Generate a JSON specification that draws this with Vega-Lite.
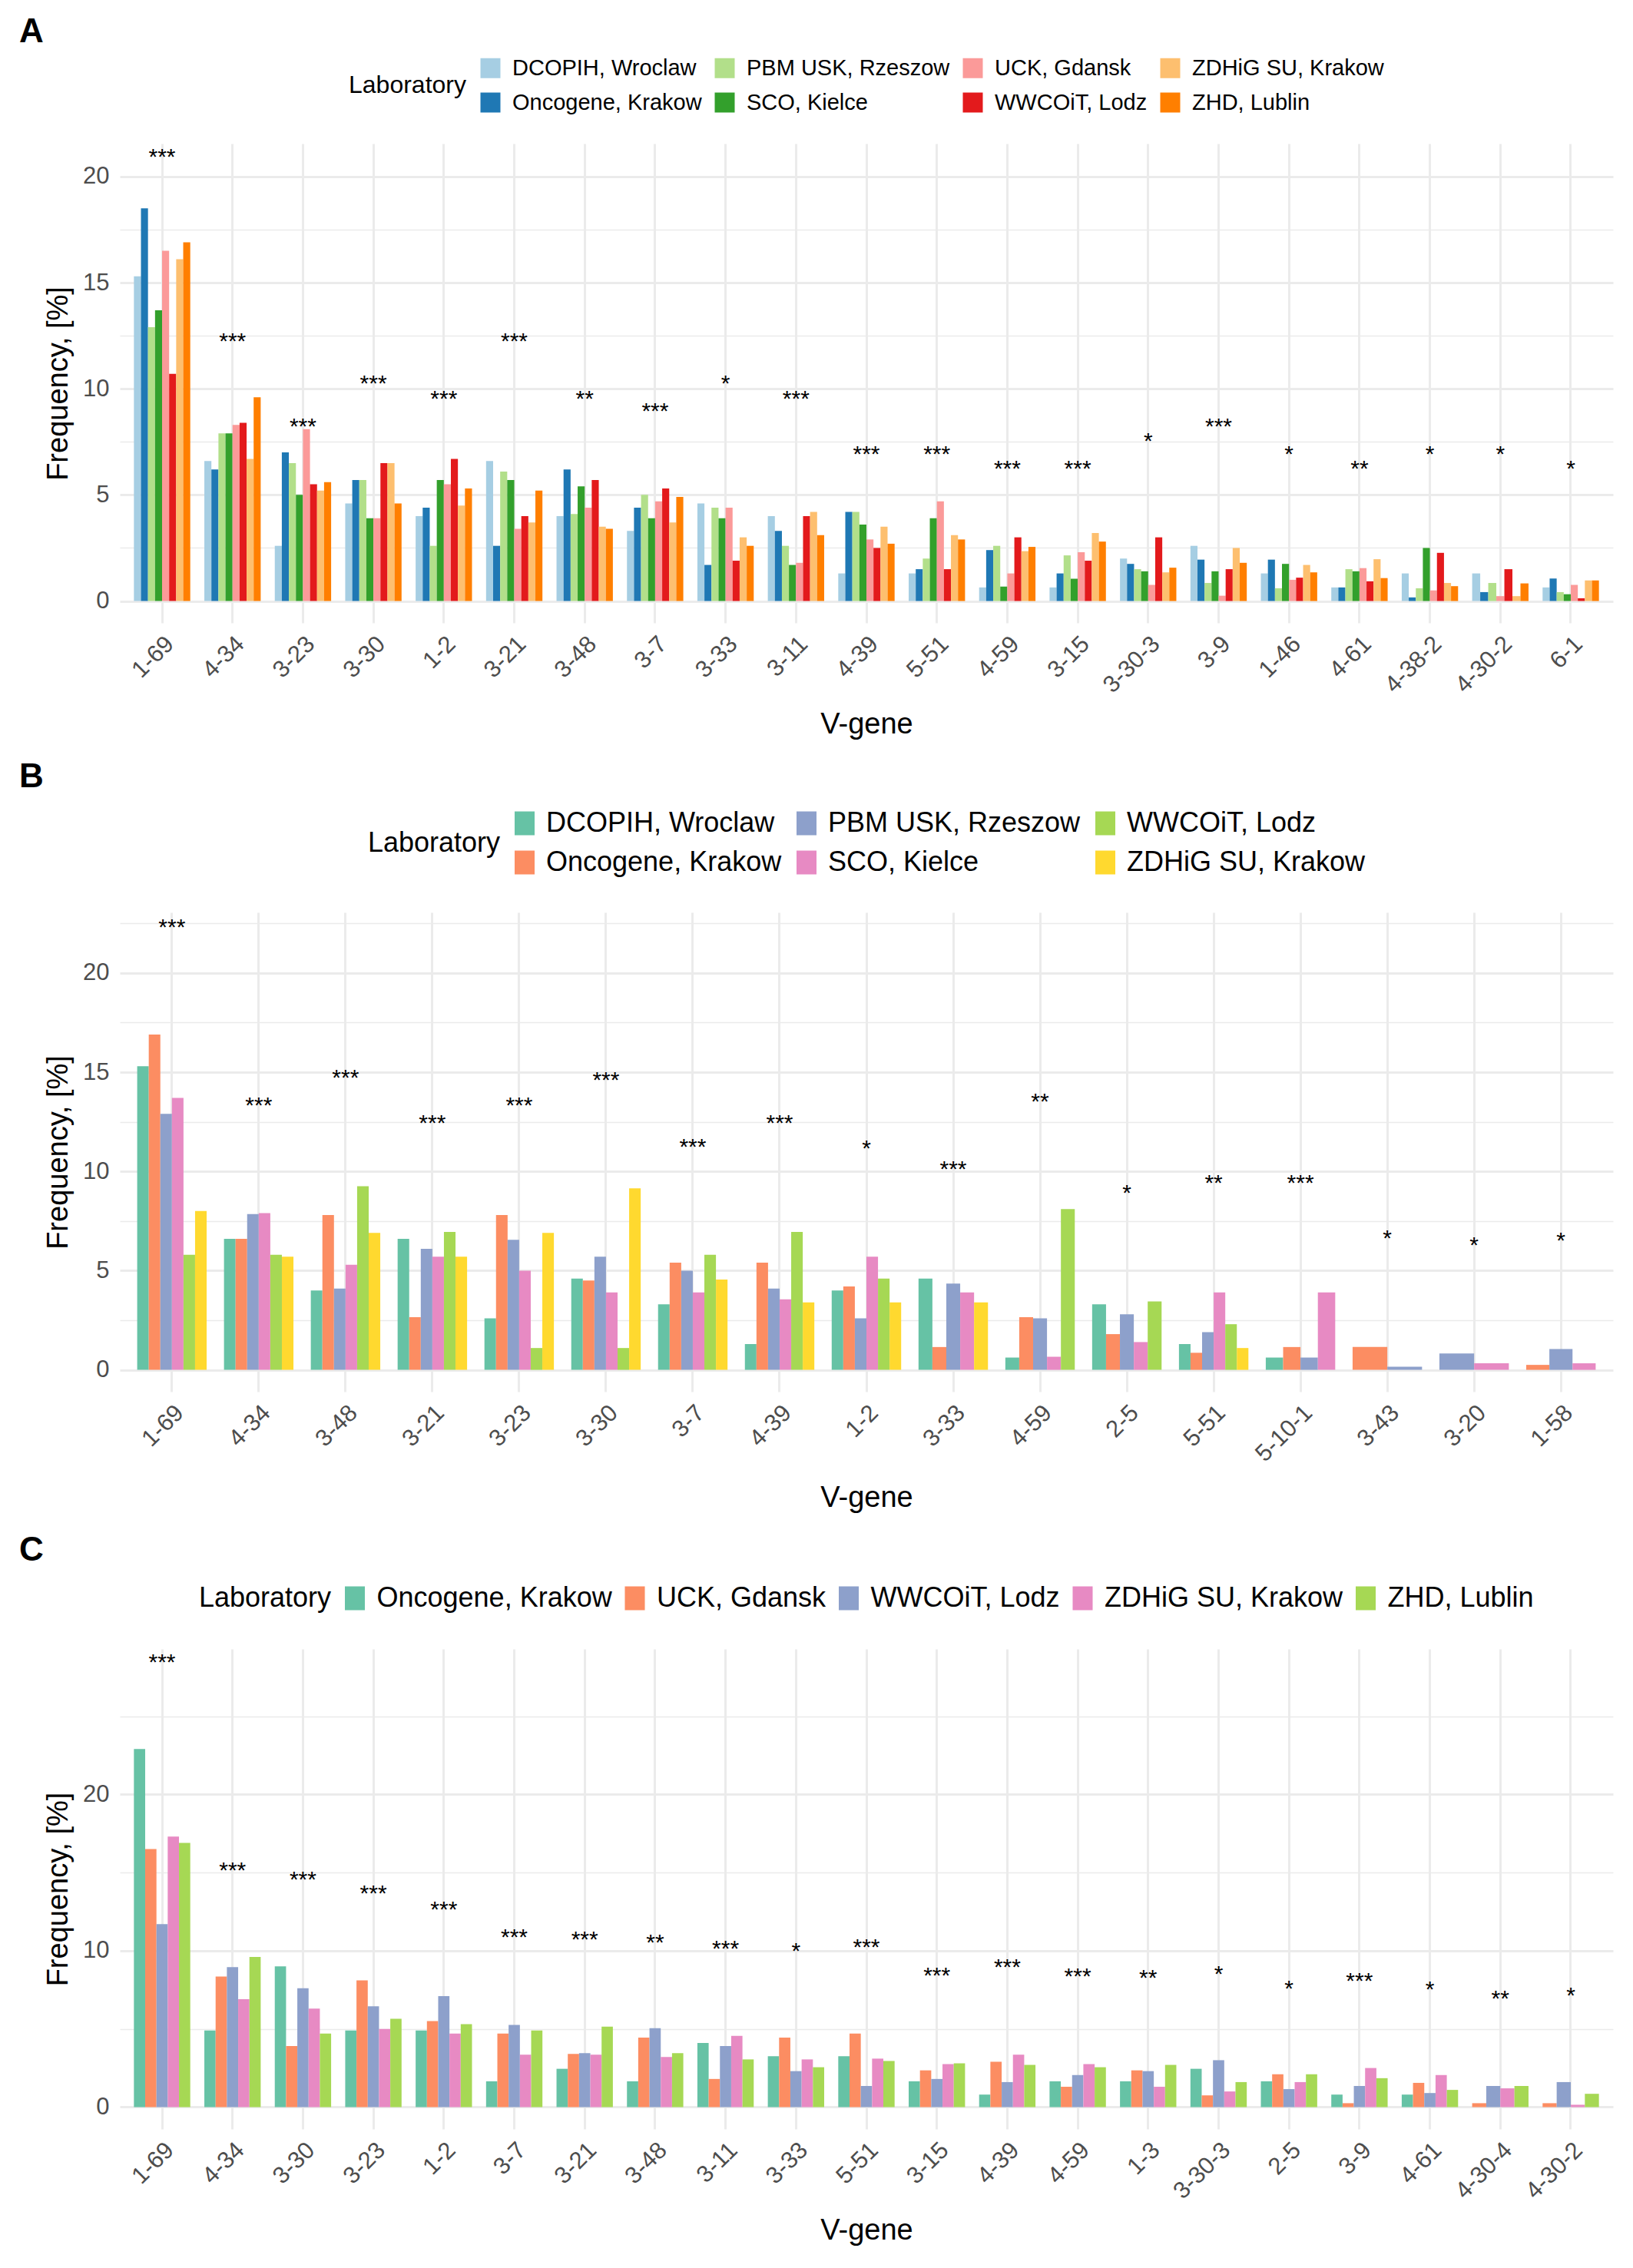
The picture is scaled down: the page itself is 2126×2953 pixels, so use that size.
{
  "$schema": "https://vega.github.io/schema/vega-lite/v6.json",
  "background": "white",
  "padding": {"left": 25, "top": 20, "right": 20, "bottom": 10},
  "spacing": 27,
  "config": {
    "font": "Liberation Sans",
    "view": {"stroke": null},
    "legend": {"layout": {"top": {"anchor": "middle"}}, "labelLimit": 1000},
    "axis": {
      "labelFont": "Liberation Sans",
      "titleFont": "Liberation Sans",
      "titleFontWeight": "normal",
      "titleColor": "black",
      "labelColor": "#4D4D4D",
      "gridColor": "#EBEBEB",
      "domain": false,
      "ticks": false
    }
  },
  "datasets": {
    "A": [
      {"gene": "1-69", "lab": "DCOPIH, Wroclaw", "freq": 15.3},
      {"gene": "1-69", "lab": "Oncogene, Krakow", "freq": 18.5},
      {"gene": "1-69", "lab": "PBM USK, Rzeszow", "freq": 12.9},
      {"gene": "1-69", "lab": "SCO, Kielce", "freq": 13.7},
      {"gene": "1-69", "lab": "UCK, Gdansk", "freq": 16.5},
      {"gene": "1-69", "lab": "WWCOiT, Lodz", "freq": 10.7},
      {"gene": "1-69", "lab": "ZDHiG SU, Krakow", "freq": 16.1},
      {"gene": "1-69", "lab": "ZHD, Lublin", "freq": 16.9},
      {"gene": "4-34", "lab": "DCOPIH, Wroclaw", "freq": 6.6},
      {"gene": "4-34", "lab": "Oncogene, Krakow", "freq": 6.2},
      {"gene": "4-34", "lab": "PBM USK, Rzeszow", "freq": 7.9},
      {"gene": "4-34", "lab": "SCO, Kielce", "freq": 7.9},
      {"gene": "4-34", "lab": "UCK, Gdansk", "freq": 8.3},
      {"gene": "4-34", "lab": "WWCOiT, Lodz", "freq": 8.4},
      {"gene": "4-34", "lab": "ZDHiG SU, Krakow", "freq": 6.7},
      {"gene": "4-34", "lab": "ZHD, Lublin", "freq": 9.6},
      {"gene": "3-23", "lab": "DCOPIH, Wroclaw", "freq": 2.6},
      {"gene": "3-23", "lab": "Oncogene, Krakow", "freq": 7.0},
      {"gene": "3-23", "lab": "PBM USK, Rzeszow", "freq": 6.5},
      {"gene": "3-23", "lab": "SCO, Kielce", "freq": 5.0},
      {"gene": "3-23", "lab": "UCK, Gdansk", "freq": 8.1},
      {"gene": "3-23", "lab": "WWCOiT, Lodz", "freq": 5.5},
      {"gene": "3-23", "lab": "ZDHiG SU, Krakow", "freq": 5.2},
      {"gene": "3-23", "lab": "ZHD, Lublin", "freq": 5.6},
      {"gene": "3-30", "lab": "DCOPIH, Wroclaw", "freq": 4.6},
      {"gene": "3-30", "lab": "Oncogene, Krakow", "freq": 5.7},
      {"gene": "3-30", "lab": "PBM USK, Rzeszow", "freq": 5.7},
      {"gene": "3-30", "lab": "SCO, Kielce", "freq": 3.9},
      {"gene": "3-30", "lab": "UCK, Gdansk", "freq": 3.9},
      {"gene": "3-30", "lab": "WWCOiT, Lodz", "freq": 6.5},
      {"gene": "3-30", "lab": "ZDHiG SU, Krakow", "freq": 6.5},
      {"gene": "3-30", "lab": "ZHD, Lublin", "freq": 4.6},
      {"gene": "1-2", "lab": "DCOPIH, Wroclaw", "freq": 4.0},
      {"gene": "1-2", "lab": "Oncogene, Krakow", "freq": 4.4},
      {"gene": "1-2", "lab": "PBM USK, Rzeszow", "freq": 2.6},
      {"gene": "1-2", "lab": "SCO, Kielce", "freq": 5.7},
      {"gene": "1-2", "lab": "UCK, Gdansk", "freq": 5.5},
      {"gene": "1-2", "lab": "WWCOiT, Lodz", "freq": 6.7},
      {"gene": "1-2", "lab": "ZDHiG SU, Krakow", "freq": 4.5},
      {"gene": "1-2", "lab": "ZHD, Lublin", "freq": 5.3},
      {"gene": "3-21", "lab": "DCOPIH, Wroclaw", "freq": 6.6},
      {"gene": "3-21", "lab": "Oncogene, Krakow", "freq": 2.6},
      {"gene": "3-21", "lab": "PBM USK, Rzeszow", "freq": 6.1},
      {"gene": "3-21", "lab": "SCO, Kielce", "freq": 5.7},
      {"gene": "3-21", "lab": "UCK, Gdansk", "freq": 3.4},
      {"gene": "3-21", "lab": "WWCOiT, Lodz", "freq": 4.0},
      {"gene": "3-21", "lab": "ZDHiG SU, Krakow", "freq": 3.7},
      {"gene": "3-21", "lab": "ZHD, Lublin", "freq": 5.2},
      {"gene": "3-48", "lab": "DCOPIH, Wroclaw", "freq": 4.0},
      {"gene": "3-48", "lab": "Oncogene, Krakow", "freq": 6.2},
      {"gene": "3-48", "lab": "PBM USK, Rzeszow", "freq": 4.1},
      {"gene": "3-48", "lab": "SCO, Kielce", "freq": 5.4},
      {"gene": "3-48", "lab": "UCK, Gdansk", "freq": 4.4},
      {"gene": "3-48", "lab": "WWCOiT, Lodz", "freq": 5.7},
      {"gene": "3-48", "lab": "ZDHiG SU, Krakow", "freq": 3.5},
      {"gene": "3-48", "lab": "ZHD, Lublin", "freq": 3.4},
      {"gene": "3-7", "lab": "DCOPIH, Wroclaw", "freq": 3.3},
      {"gene": "3-7", "lab": "Oncogene, Krakow", "freq": 4.4},
      {"gene": "3-7", "lab": "PBM USK, Rzeszow", "freq": 5.0},
      {"gene": "3-7", "lab": "SCO, Kielce", "freq": 3.9},
      {"gene": "3-7", "lab": "UCK, Gdansk", "freq": 4.7},
      {"gene": "3-7", "lab": "WWCOiT, Lodz", "freq": 5.3},
      {"gene": "3-7", "lab": "ZDHiG SU, Krakow", "freq": 3.7},
      {"gene": "3-7", "lab": "ZHD, Lublin", "freq": 4.9},
      {"gene": "3-33", "lab": "DCOPIH, Wroclaw", "freq": 4.6},
      {"gene": "3-33", "lab": "Oncogene, Krakow", "freq": 1.7},
      {"gene": "3-33", "lab": "PBM USK, Rzeszow", "freq": 4.4},
      {"gene": "3-33", "lab": "SCO, Kielce", "freq": 3.9},
      {"gene": "3-33", "lab": "UCK, Gdansk", "freq": 4.4},
      {"gene": "3-33", "lab": "WWCOiT, Lodz", "freq": 1.9},
      {"gene": "3-33", "lab": "ZDHiG SU, Krakow", "freq": 3.0},
      {"gene": "3-33", "lab": "ZHD, Lublin", "freq": 2.6},
      {"gene": "3-11", "lab": "DCOPIH, Wroclaw", "freq": 4.0},
      {"gene": "3-11", "lab": "Oncogene, Krakow", "freq": 3.3},
      {"gene": "3-11", "lab": "PBM USK, Rzeszow", "freq": 2.6},
      {"gene": "3-11", "lab": "SCO, Kielce", "freq": 1.7},
      {"gene": "3-11", "lab": "UCK, Gdansk", "freq": 1.8},
      {"gene": "3-11", "lab": "WWCOiT, Lodz", "freq": 4.0},
      {"gene": "3-11", "lab": "ZDHiG SU, Krakow", "freq": 4.2},
      {"gene": "3-11", "lab": "ZHD, Lublin", "freq": 3.1},
      {"gene": "4-39", "lab": "DCOPIH, Wroclaw", "freq": 1.3},
      {"gene": "4-39", "lab": "Oncogene, Krakow", "freq": 4.2},
      {"gene": "4-39", "lab": "PBM USK, Rzeszow", "freq": 4.2},
      {"gene": "4-39", "lab": "SCO, Kielce", "freq": 3.6},
      {"gene": "4-39", "lab": "UCK, Gdansk", "freq": 2.9},
      {"gene": "4-39", "lab": "WWCOiT, Lodz", "freq": 2.5},
      {"gene": "4-39", "lab": "ZDHiG SU, Krakow", "freq": 3.5},
      {"gene": "4-39", "lab": "ZHD, Lublin", "freq": 2.7},
      {"gene": "5-51", "lab": "DCOPIH, Wroclaw", "freq": 1.3},
      {"gene": "5-51", "lab": "Oncogene, Krakow", "freq": 1.5},
      {"gene": "5-51", "lab": "PBM USK, Rzeszow", "freq": 2.0},
      {"gene": "5-51", "lab": "SCO, Kielce", "freq": 3.9},
      {"gene": "5-51", "lab": "UCK, Gdansk", "freq": 4.7},
      {"gene": "5-51", "lab": "WWCOiT, Lodz", "freq": 1.5},
      {"gene": "5-51", "lab": "ZDHiG SU, Krakow", "freq": 3.1},
      {"gene": "5-51", "lab": "ZHD, Lublin", "freq": 2.9},
      {"gene": "4-59", "lab": "DCOPIH, Wroclaw", "freq": 0.64},
      {"gene": "4-59", "lab": "Oncogene, Krakow", "freq": 2.4},
      {"gene": "4-59", "lab": "PBM USK, Rzeszow", "freq": 2.6},
      {"gene": "4-59", "lab": "SCO, Kielce", "freq": 0.68},
      {"gene": "4-59", "lab": "UCK, Gdansk", "freq": 1.3},
      {"gene": "4-59", "lab": "WWCOiT, Lodz", "freq": 3.0},
      {"gene": "4-59", "lab": "ZDHiG SU, Krakow", "freq": 2.35},
      {"gene": "4-59", "lab": "ZHD, Lublin", "freq": 2.55},
      {"gene": "3-15", "lab": "DCOPIH, Wroclaw", "freq": 0.64},
      {"gene": "3-15", "lab": "Oncogene, Krakow", "freq": 1.3},
      {"gene": "3-15", "lab": "PBM USK, Rzeszow", "freq": 2.15},
      {"gene": "3-15", "lab": "SCO, Kielce", "freq": 1.05},
      {"gene": "3-15", "lab": "UCK, Gdansk", "freq": 2.3},
      {"gene": "3-15", "lab": "WWCOiT, Lodz", "freq": 1.9},
      {"gene": "3-15", "lab": "ZDHiG SU, Krakow", "freq": 3.2},
      {"gene": "3-15", "lab": "ZHD, Lublin", "freq": 2.8},
      {"gene": "3-30-3", "lab": "DCOPIH, Wroclaw", "freq": 2.0},
      {"gene": "3-30-3", "lab": "Oncogene, Krakow", "freq": 1.75},
      {"gene": "3-30-3", "lab": "PBM USK, Rzeszow", "freq": 1.5},
      {"gene": "3-30-3", "lab": "SCO, Kielce", "freq": 1.4},
      {"gene": "3-30-3", "lab": "UCK, Gdansk", "freq": 0.76},
      {"gene": "3-30-3", "lab": "WWCOiT, Lodz", "freq": 3.0},
      {"gene": "3-30-3", "lab": "ZDHiG SU, Krakow", "freq": 1.35},
      {"gene": "3-30-3", "lab": "ZHD, Lublin", "freq": 1.57},
      {"gene": "3-9", "lab": "DCOPIH, Wroclaw", "freq": 2.6},
      {"gene": "3-9", "lab": "Oncogene, Krakow", "freq": 1.95},
      {"gene": "3-9", "lab": "PBM USK, Rzeszow", "freq": 0.85},
      {"gene": "3-9", "lab": "SCO, Kielce", "freq": 1.4},
      {"gene": "3-9", "lab": "UCK, Gdansk", "freq": 0.25},
      {"gene": "3-9", "lab": "WWCOiT, Lodz", "freq": 1.5},
      {"gene": "3-9", "lab": "ZDHiG SU, Krakow", "freq": 2.5},
      {"gene": "3-9", "lab": "ZHD, Lublin", "freq": 1.8},
      {"gene": "1-46", "lab": "DCOPIH, Wroclaw", "freq": 1.3},
      {"gene": "1-46", "lab": "Oncogene, Krakow", "freq": 1.95},
      {"gene": "1-46", "lab": "PBM USK, Rzeszow", "freq": 0.6},
      {"gene": "1-46", "lab": "SCO, Kielce", "freq": 1.75},
      {"gene": "1-46", "lab": "UCK, Gdansk", "freq": 1.0},
      {"gene": "1-46", "lab": "WWCOiT, Lodz", "freq": 1.1},
      {"gene": "1-46", "lab": "ZDHiG SU, Krakow", "freq": 1.7},
      {"gene": "1-46", "lab": "ZHD, Lublin", "freq": 1.35},
      {"gene": "4-61", "lab": "DCOPIH, Wroclaw", "freq": 0.64},
      {"gene": "4-61", "lab": "Oncogene, Krakow", "freq": 0.64},
      {"gene": "4-61", "lab": "PBM USK, Rzeszow", "freq": 1.5},
      {"gene": "4-61", "lab": "SCO, Kielce", "freq": 1.4},
      {"gene": "4-61", "lab": "UCK, Gdansk", "freq": 1.55},
      {"gene": "4-61", "lab": "WWCOiT, Lodz", "freq": 0.93},
      {"gene": "4-61", "lab": "ZDHiG SU, Krakow", "freq": 1.97},
      {"gene": "4-61", "lab": "ZHD, Lublin", "freq": 1.08},
      {"gene": "4-38-2", "lab": "DCOPIH, Wroclaw", "freq": 1.3},
      {"gene": "4-38-2", "lab": "Oncogene, Krakow", "freq": 0.17},
      {"gene": "4-38-2", "lab": "PBM USK, Rzeszow", "freq": 0.6},
      {"gene": "4-38-2", "lab": "SCO, Kielce", "freq": 2.5},
      {"gene": "4-38-2", "lab": "UCK, Gdansk", "freq": 0.5},
      {"gene": "4-38-2", "lab": "WWCOiT, Lodz", "freq": 2.27},
      {"gene": "4-38-2", "lab": "ZDHiG SU, Krakow", "freq": 0.85},
      {"gene": "4-38-2", "lab": "ZHD, Lublin", "freq": 0.7},
      {"gene": "4-30-2", "lab": "DCOPIH, Wroclaw", "freq": 1.3},
      {"gene": "4-30-2", "lab": "Oncogene, Krakow", "freq": 0.42},
      {"gene": "4-30-2", "lab": "PBM USK, Rzeszow", "freq": 0.85},
      {"gene": "4-30-2", "lab": "UCK, Gdansk", "freq": 0.23},
      {"gene": "4-30-2", "lab": "WWCOiT, Lodz", "freq": 1.5},
      {"gene": "4-30-2", "lab": "ZDHiG SU, Krakow", "freq": 0.23},
      {"gene": "4-30-2", "lab": "ZHD, Lublin", "freq": 0.83},
      {"gene": "6-1", "lab": "DCOPIH, Wroclaw", "freq": 0.64},
      {"gene": "6-1", "lab": "Oncogene, Krakow", "freq": 1.06},
      {"gene": "6-1", "lab": "PBM USK, Rzeszow", "freq": 0.42},
      {"gene": "6-1", "lab": "SCO, Kielce", "freq": 0.32},
      {"gene": "6-1", "lab": "UCK, Gdansk", "freq": 0.76},
      {"gene": "6-1", "lab": "WWCOiT, Lodz", "freq": 0.13},
      {"gene": "6-1", "lab": "ZDHiG SU, Krakow", "freq": 0.97},
      {"gene": "6-1", "lab": "ZHD, Lublin", "freq": 0.97}
    ],
    "B": [
      {"gene": "1-69", "lab": "DCOPIH, Wroclaw", "freq": 15.3},
      {"gene": "1-69", "lab": "Oncogene, Krakow", "freq": 16.9},
      {"gene": "1-69", "lab": "PBM USK, Rzeszow", "freq": 12.9},
      {"gene": "1-69", "lab": "SCO, Kielce", "freq": 13.7},
      {"gene": "1-69", "lab": "WWCOiT, Lodz", "freq": 5.8},
      {"gene": "1-69", "lab": "ZDHiG SU, Krakow", "freq": 8.0},
      {"gene": "4-34", "lab": "DCOPIH, Wroclaw", "freq": 6.6},
      {"gene": "4-34", "lab": "Oncogene, Krakow", "freq": 6.6},
      {"gene": "4-34", "lab": "PBM USK, Rzeszow", "freq": 7.85},
      {"gene": "4-34", "lab": "SCO, Kielce", "freq": 7.9},
      {"gene": "4-34", "lab": "WWCOiT, Lodz", "freq": 5.8},
      {"gene": "4-34", "lab": "ZDHiG SU, Krakow", "freq": 5.7},
      {"gene": "3-48", "lab": "DCOPIH, Wroclaw", "freq": 4.0},
      {"gene": "3-48", "lab": "Oncogene, Krakow", "freq": 7.8},
      {"gene": "3-48", "lab": "PBM USK, Rzeszow", "freq": 4.1},
      {"gene": "3-48", "lab": "SCO, Kielce", "freq": 5.3},
      {"gene": "3-48", "lab": "WWCOiT, Lodz", "freq": 9.25},
      {"gene": "3-48", "lab": "ZDHiG SU, Krakow", "freq": 6.9},
      {"gene": "3-21", "lab": "DCOPIH, Wroclaw", "freq": 6.6},
      {"gene": "3-21", "lab": "Oncogene, Krakow", "freq": 2.65},
      {"gene": "3-21", "lab": "PBM USK, Rzeszow", "freq": 6.1},
      {"gene": "3-21", "lab": "SCO, Kielce", "freq": 5.7},
      {"gene": "3-21", "lab": "WWCOiT, Lodz", "freq": 6.95},
      {"gene": "3-21", "lab": "ZDHiG SU, Krakow", "freq": 5.7},
      {"gene": "3-23", "lab": "DCOPIH, Wroclaw", "freq": 2.6},
      {"gene": "3-23", "lab": "Oncogene, Krakow", "freq": 7.8},
      {"gene": "3-23", "lab": "PBM USK, Rzeszow", "freq": 6.55},
      {"gene": "3-23", "lab": "SCO, Kielce", "freq": 5.0},
      {"gene": "3-23", "lab": "WWCOiT, Lodz", "freq": 1.1},
      {"gene": "3-23", "lab": "ZDHiG SU, Krakow", "freq": 6.9},
      {"gene": "3-30", "lab": "DCOPIH, Wroclaw", "freq": 4.6},
      {"gene": "3-30", "lab": "Oncogene, Krakow", "freq": 4.5},
      {"gene": "3-30", "lab": "PBM USK, Rzeszow", "freq": 5.7},
      {"gene": "3-30", "lab": "SCO, Kielce", "freq": 3.9},
      {"gene": "3-30", "lab": "WWCOiT, Lodz", "freq": 1.1},
      {"gene": "3-30", "lab": "ZDHiG SU, Krakow", "freq": 9.15},
      {"gene": "3-7", "lab": "DCOPIH, Wroclaw", "freq": 3.3},
      {"gene": "3-7", "lab": "Oncogene, Krakow", "freq": 5.4},
      {"gene": "3-7", "lab": "PBM USK, Rzeszow", "freq": 5.0},
      {"gene": "3-7", "lab": "SCO, Kielce", "freq": 3.9},
      {"gene": "3-7", "lab": "WWCOiT, Lodz", "freq": 5.8},
      {"gene": "3-7", "lab": "ZDHiG SU, Krakow", "freq": 4.55},
      {"gene": "4-39", "lab": "DCOPIH, Wroclaw", "freq": 1.3},
      {"gene": "4-39", "lab": "Oncogene, Krakow", "freq": 5.4},
      {"gene": "4-39", "lab": "PBM USK, Rzeszow", "freq": 4.1},
      {"gene": "4-39", "lab": "SCO, Kielce", "freq": 3.55},
      {"gene": "4-39", "lab": "WWCOiT, Lodz", "freq": 6.95},
      {"gene": "4-39", "lab": "ZDHiG SU, Krakow", "freq": 3.4},
      {"gene": "1-2", "lab": "DCOPIH, Wroclaw", "freq": 4.0},
      {"gene": "1-2", "lab": "Oncogene, Krakow", "freq": 4.2},
      {"gene": "1-2", "lab": "PBM USK, Rzeszow", "freq": 2.6},
      {"gene": "1-2", "lab": "SCO, Kielce", "freq": 5.7},
      {"gene": "1-2", "lab": "WWCOiT, Lodz", "freq": 4.6},
      {"gene": "1-2", "lab": "ZDHiG SU, Krakow", "freq": 3.4},
      {"gene": "3-33", "lab": "DCOPIH, Wroclaw", "freq": 4.6},
      {"gene": "3-33", "lab": "Oncogene, Krakow", "freq": 1.15},
      {"gene": "3-33", "lab": "PBM USK, Rzeszow", "freq": 4.35},
      {"gene": "3-33", "lab": "SCO, Kielce", "freq": 3.9},
      {"gene": "3-33", "lab": "ZDHiG SU, Krakow", "freq": 3.4},
      {"gene": "4-59", "lab": "DCOPIH, Wroclaw", "freq": 0.62},
      {"gene": "4-59", "lab": "Oncogene, Krakow", "freq": 2.65},
      {"gene": "4-59", "lab": "PBM USK, Rzeszow", "freq": 2.6},
      {"gene": "4-59", "lab": "SCO, Kielce", "freq": 0.66},
      {"gene": "4-59", "lab": "WWCOiT, Lodz", "freq": 8.1},
      {"gene": "2-5", "lab": "DCOPIH, Wroclaw", "freq": 3.3},
      {"gene": "2-5", "lab": "Oncogene, Krakow", "freq": 1.8},
      {"gene": "2-5", "lab": "PBM USK, Rzeszow", "freq": 2.8},
      {"gene": "2-5", "lab": "SCO, Kielce", "freq": 1.4},
      {"gene": "2-5", "lab": "WWCOiT, Lodz", "freq": 3.45},
      {"gene": "5-51", "lab": "DCOPIH, Wroclaw", "freq": 1.3},
      {"gene": "5-51", "lab": "Oncogene, Krakow", "freq": 0.86},
      {"gene": "5-51", "lab": "PBM USK, Rzeszow", "freq": 1.9},
      {"gene": "5-51", "lab": "SCO, Kielce", "freq": 3.9},
      {"gene": "5-51", "lab": "WWCOiT, Lodz", "freq": 2.3},
      {"gene": "5-51", "lab": "ZDHiG SU, Krakow", "freq": 1.1},
      {"gene": "5-10-1", "lab": "DCOPIH, Wroclaw", "freq": 0.62},
      {"gene": "5-10-1", "lab": "Oncogene, Krakow", "freq": 1.15},
      {"gene": "5-10-1", "lab": "PBM USK, Rzeszow", "freq": 0.62},
      {"gene": "5-10-1", "lab": "SCO, Kielce", "freq": 3.9},
      {"gene": "3-43", "lab": "Oncogene, Krakow", "freq": 1.15},
      {"gene": "3-43", "lab": "PBM USK, Rzeszow", "freq": 0.16},
      {"gene": "3-20", "lab": "PBM USK, Rzeszow", "freq": 0.83},
      {"gene": "3-20", "lab": "SCO, Kielce", "freq": 0.33},
      {"gene": "1-58", "lab": "Oncogene, Krakow", "freq": 0.25},
      {"gene": "1-58", "lab": "PBM USK, Rzeszow", "freq": 1.05},
      {"gene": "1-58", "lab": "SCO, Kielce", "freq": 0.33}
    ],
    "C": [
      {"gene": "1-69", "lab": "Oncogene, Krakow", "freq": 22.9},
      {"gene": "1-69", "lab": "UCK, Gdansk", "freq": 16.5},
      {"gene": "1-69", "lab": "WWCOiT, Lodz", "freq": 11.7},
      {"gene": "1-69", "lab": "ZDHiG SU, Krakow", "freq": 17.3},
      {"gene": "1-69", "lab": "ZHD, Lublin", "freq": 16.9},
      {"gene": "4-34", "lab": "Oncogene, Krakow", "freq": 4.9},
      {"gene": "4-34", "lab": "UCK, Gdansk", "freq": 8.35},
      {"gene": "4-34", "lab": "WWCOiT, Lodz", "freq": 8.95},
      {"gene": "4-34", "lab": "ZDHiG SU, Krakow", "freq": 6.9},
      {"gene": "4-34", "lab": "ZHD, Lublin", "freq": 9.6},
      {"gene": "3-30", "lab": "Oncogene, Krakow", "freq": 9.0},
      {"gene": "3-30", "lab": "UCK, Gdansk", "freq": 3.9},
      {"gene": "3-30", "lab": "WWCOiT, Lodz", "freq": 7.6},
      {"gene": "3-30", "lab": "ZDHiG SU, Krakow", "freq": 6.3},
      {"gene": "3-30", "lab": "ZHD, Lublin", "freq": 4.7},
      {"gene": "3-23", "lab": "Oncogene, Krakow", "freq": 4.9},
      {"gene": "3-23", "lab": "UCK, Gdansk", "freq": 8.1},
      {"gene": "3-23", "lab": "WWCOiT, Lodz", "freq": 6.45},
      {"gene": "3-23", "lab": "ZDHiG SU, Krakow", "freq": 5.0},
      {"gene": "3-23", "lab": "ZHD, Lublin", "freq": 5.65},
      {"gene": "1-2", "lab": "Oncogene, Krakow", "freq": 4.9},
      {"gene": "1-2", "lab": "UCK, Gdansk", "freq": 5.5},
      {"gene": "1-2", "lab": "WWCOiT, Lodz", "freq": 7.1},
      {"gene": "1-2", "lab": "ZDHiG SU, Krakow", "freq": 4.7},
      {"gene": "1-2", "lab": "ZHD, Lublin", "freq": 5.3},
      {"gene": "3-7", "lab": "Oncogene, Krakow", "freq": 1.65},
      {"gene": "3-7", "lab": "UCK, Gdansk", "freq": 4.7},
      {"gene": "3-7", "lab": "WWCOiT, Lodz", "freq": 5.25},
      {"gene": "3-7", "lab": "ZDHiG SU, Krakow", "freq": 3.35},
      {"gene": "3-7", "lab": "ZHD, Lublin", "freq": 4.9},
      {"gene": "3-21", "lab": "Oncogene, Krakow", "freq": 2.45},
      {"gene": "3-21", "lab": "UCK, Gdansk", "freq": 3.4},
      {"gene": "3-21", "lab": "WWCOiT, Lodz", "freq": 3.45},
      {"gene": "3-21", "lab": "ZDHiG SU, Krakow", "freq": 3.35},
      {"gene": "3-21", "lab": "ZHD, Lublin", "freq": 5.15},
      {"gene": "3-48", "lab": "Oncogene, Krakow", "freq": 1.65},
      {"gene": "3-48", "lab": "UCK, Gdansk", "freq": 4.45},
      {"gene": "3-48", "lab": "WWCOiT, Lodz", "freq": 5.05},
      {"gene": "3-48", "lab": "ZDHiG SU, Krakow", "freq": 3.2},
      {"gene": "3-48", "lab": "ZHD, Lublin", "freq": 3.45},
      {"gene": "3-11", "lab": "Oncogene, Krakow", "freq": 4.1},
      {"gene": "3-11", "lab": "UCK, Gdansk", "freq": 1.8},
      {"gene": "3-11", "lab": "WWCOiT, Lodz", "freq": 3.9},
      {"gene": "3-11", "lab": "ZDHiG SU, Krakow", "freq": 4.55},
      {"gene": "3-11", "lab": "ZHD, Lublin", "freq": 3.05},
      {"gene": "3-33", "lab": "Oncogene, Krakow", "freq": 3.25},
      {"gene": "3-33", "lab": "UCK, Gdansk", "freq": 4.45},
      {"gene": "3-33", "lab": "WWCOiT, Lodz", "freq": 2.3},
      {"gene": "3-33", "lab": "ZDHiG SU, Krakow", "freq": 3.05},
      {"gene": "3-33", "lab": "ZHD, Lublin", "freq": 2.55},
      {"gene": "5-51", "lab": "Oncogene, Krakow", "freq": 3.25},
      {"gene": "5-51", "lab": "UCK, Gdansk", "freq": 4.7},
      {"gene": "5-51", "lab": "WWCOiT, Lodz", "freq": 1.35},
      {"gene": "5-51", "lab": "ZDHiG SU, Krakow", "freq": 3.1},
      {"gene": "5-51", "lab": "ZHD, Lublin", "freq": 2.95},
      {"gene": "3-15", "lab": "Oncogene, Krakow", "freq": 1.65},
      {"gene": "3-15", "lab": "UCK, Gdansk", "freq": 2.35},
      {"gene": "3-15", "lab": "WWCOiT, Lodz", "freq": 1.8},
      {"gene": "3-15", "lab": "ZDHiG SU, Krakow", "freq": 2.75},
      {"gene": "3-15", "lab": "ZHD, Lublin", "freq": 2.8},
      {"gene": "4-39", "lab": "Oncogene, Krakow", "freq": 0.8},
      {"gene": "4-39", "lab": "UCK, Gdansk", "freq": 2.9},
      {"gene": "4-39", "lab": "WWCOiT, Lodz", "freq": 1.6},
      {"gene": "4-39", "lab": "ZDHiG SU, Krakow", "freq": 3.35},
      {"gene": "4-39", "lab": "ZHD, Lublin", "freq": 2.7},
      {"gene": "4-59", "lab": "Oncogene, Krakow", "freq": 1.65},
      {"gene": "4-59", "lab": "UCK, Gdansk", "freq": 1.3},
      {"gene": "4-59", "lab": "WWCOiT, Lodz", "freq": 2.05},
      {"gene": "4-59", "lab": "ZDHiG SU, Krakow", "freq": 2.75},
      {"gene": "4-59", "lab": "ZHD, Lublin", "freq": 2.55},
      {"gene": "1-3", "lab": "Oncogene, Krakow", "freq": 1.65},
      {"gene": "1-3", "lab": "UCK, Gdansk", "freq": 2.35},
      {"gene": "1-3", "lab": "WWCOiT, Lodz", "freq": 2.3},
      {"gene": "1-3", "lab": "ZDHiG SU, Krakow", "freq": 1.3},
      {"gene": "1-3", "lab": "ZHD, Lublin", "freq": 2.7},
      {"gene": "3-30-3", "lab": "Oncogene, Krakow", "freq": 2.45},
      {"gene": "3-30-3", "lab": "UCK, Gdansk", "freq": 0.75},
      {"gene": "3-30-3", "lab": "WWCOiT, Lodz", "freq": 3.0},
      {"gene": "3-30-3", "lab": "ZDHiG SU, Krakow", "freq": 1.0},
      {"gene": "3-30-3", "lab": "ZHD, Lublin", "freq": 1.6},
      {"gene": "2-5", "lab": "Oncogene, Krakow", "freq": 1.65},
      {"gene": "2-5", "lab": "UCK, Gdansk", "freq": 2.1},
      {"gene": "2-5", "lab": "WWCOiT, Lodz", "freq": 1.15},
      {"gene": "2-5", "lab": "ZDHiG SU, Krakow", "freq": 1.6},
      {"gene": "2-5", "lab": "ZHD, Lublin", "freq": 2.1},
      {"gene": "3-9", "lab": "Oncogene, Krakow", "freq": 0.8},
      {"gene": "3-9", "lab": "UCK, Gdansk", "freq": 0.25},
      {"gene": "3-9", "lab": "WWCOiT, Lodz", "freq": 1.35},
      {"gene": "3-9", "lab": "ZDHiG SU, Krakow", "freq": 2.5},
      {"gene": "3-9", "lab": "ZHD, Lublin", "freq": 1.85},
      {"gene": "4-61", "lab": "Oncogene, Krakow", "freq": 0.8},
      {"gene": "4-61", "lab": "UCK, Gdansk", "freq": 1.55},
      {"gene": "4-61", "lab": "WWCOiT, Lodz", "freq": 0.9},
      {"gene": "4-61", "lab": "ZDHiG SU, Krakow", "freq": 2.05},
      {"gene": "4-61", "lab": "ZHD, Lublin", "freq": 1.1},
      {"gene": "4-30-4", "lab": "UCK, Gdansk", "freq": 0.25},
      {"gene": "4-30-4", "lab": "WWCOiT, Lodz", "freq": 1.35},
      {"gene": "4-30-4", "lab": "ZDHiG SU, Krakow", "freq": 1.2},
      {"gene": "4-30-4", "lab": "ZHD, Lublin", "freq": 1.35},
      {"gene": "4-30-2", "lab": "UCK, Gdansk", "freq": 0.25},
      {"gene": "4-30-2", "lab": "WWCOiT, Lodz", "freq": 1.6},
      {"gene": "4-30-2", "lab": "ZDHiG SU, Krakow", "freq": 0.15},
      {"gene": "4-30-2", "lab": "ZHD, Lublin", "freq": 0.85}
    ],
    "sigA": [
      {"gene": "1-69", "sig": "***", "at": 21.2},
      {"gene": "4-34", "sig": "***", "at": 12.5},
      {"gene": "3-23", "sig": "***", "at": 8.5},
      {"gene": "3-30", "sig": "***", "at": 10.5},
      {"gene": "1-2", "sig": "***", "at": 9.8},
      {"gene": "3-21", "sig": "***", "at": 12.5},
      {"gene": "3-48", "sig": "**", "at": 9.8},
      {"gene": "3-7", "sig": "***", "at": 9.2},
      {"gene": "3-33", "sig": "*", "at": 10.5},
      {"gene": "3-11", "sig": "***", "at": 9.8},
      {"gene": "4-39", "sig": "***", "at": 7.2},
      {"gene": "5-51", "sig": "***", "at": 7.2},
      {"gene": "4-59", "sig": "***", "at": 6.5},
      {"gene": "3-15", "sig": "***", "at": 6.5},
      {"gene": "3-30-3", "sig": "*", "at": 7.8},
      {"gene": "3-9", "sig": "***", "at": 8.5},
      {"gene": "1-46", "sig": "*", "at": 7.2},
      {"gene": "4-61", "sig": "**", "at": 6.5},
      {"gene": "4-38-2", "sig": "*", "at": 7.2},
      {"gene": "4-30-2", "sig": "*", "at": 7.2},
      {"gene": "6-1", "sig": "*", "at": 6.5}
    ],
    "sigB": [
      {"gene": "1-69", "sig": "***", "at": 22.6},
      {"gene": "4-34", "sig": "***", "at": 13.6},
      {"gene": "3-48", "sig": "***", "at": 15.0},
      {"gene": "3-21", "sig": "***", "at": 12.7},
      {"gene": "3-23", "sig": "***", "at": 13.6},
      {"gene": "3-30", "sig": "***", "at": 14.9},
      {"gene": "3-7", "sig": "***", "at": 11.5},
      {"gene": "4-39", "sig": "***", "at": 12.7},
      {"gene": "1-2", "sig": "*", "at": 11.45},
      {"gene": "3-33", "sig": "***", "at": 10.4},
      {"gene": "4-59", "sig": "**", "at": 13.8},
      {"gene": "2-5", "sig": "*", "at": 9.2},
      {"gene": "5-51", "sig": "**", "at": 9.7},
      {"gene": "5-10-1", "sig": "***", "at": 9.7},
      {"gene": "3-43", "sig": "*", "at": 6.9},
      {"gene": "3-20", "sig": "*", "at": 6.55},
      {"gene": "1-58", "sig": "*", "at": 6.8}
    ],
    "sigC": [
      {"gene": "1-69", "sig": "***", "at": 28.8},
      {"gene": "4-34", "sig": "***", "at": 15.5},
      {"gene": "3-30", "sig": "***", "at": 14.9},
      {"gene": "3-23", "sig": "***", "at": 14.0},
      {"gene": "1-2", "sig": "***", "at": 13.0},
      {"gene": "3-7", "sig": "***", "at": 11.2},
      {"gene": "3-21", "sig": "***", "at": 11.1},
      {"gene": "3-48", "sig": "**", "at": 10.9},
      {"gene": "3-11", "sig": "***", "at": 10.5},
      {"gene": "3-33", "sig": "*", "at": 10.35},
      {"gene": "5-51", "sig": "***", "at": 10.6},
      {"gene": "3-15", "sig": "***", "at": 8.75},
      {"gene": "4-39", "sig": "***", "at": 9.3},
      {"gene": "4-59", "sig": "***", "at": 8.7},
      {"gene": "1-3", "sig": "**", "at": 8.6},
      {"gene": "3-30-3", "sig": "*", "at": 8.85},
      {"gene": "2-5", "sig": "*", "at": 7.95},
      {"gene": "3-9", "sig": "***", "at": 8.4},
      {"gene": "4-61", "sig": "*", "at": 7.9},
      {"gene": "4-30-4", "sig": "**", "at": 7.3},
      {"gene": "4-30-2", "sig": "*", "at": 7.5}
    ]
  },
  "vconcat": [
    {
      "width": 1944,
      "height": 624,
      "title": {"text": "A", "anchor": "start", "frame": "group", "dx": -131, "offset": 10, "fontSize": 44, "fontWeight": "bold", "color": "black", "font": "Liberation Sans"},
      "encoding": {
        "x": {
          "field": "gene", "type": "nominal",
          "sort": ["1-69", "4-34", "3-23", "3-30", "1-2", "3-21", "3-48", "3-7", "3-33", "3-11", "4-39", "5-51", "4-59", "3-15", "3-30-3", "3-9", "1-46", "4-61", "4-38-2", "4-30-2", "6-1"],
          "scale": {"paddingInner": 0.2, "paddingOuter": 0.2},
          "title": "V-gene",
          "axis": {"bandPosition": 0.5, "grid": true, "gridWidth": 3, "labelAngle": -45, "labelAlign": "right", "labelBaseline": "top", "labelPadding": 12, "labelFontSize": 31, "titleFontSize": 38, "titlePadding": 17}
        },
        "y": {
          "field": "freq", "type": "quantitative",
          "scale": {"domain": [-1.03, 21.55], "nice": false, "zero": false},
          "title": "Frequency, [%]",
          "axis": {"values": [0, 2.5, 5, 7.5, 10, 12.5, 15, 17.5, 20], "labelExpr": "datum.value % 5 === 0 ? datum.label : ''", "gridWidth": {"condition": {"test": "datum.value % 5 === 0", "value": 3}, "value": 1.6}, "labelFontSize": 31, "labelPadding": 14, "titleFontSize": 38, "titlePadding": 12}
        }
      },
      "layer": [
        {
          "data": {"name": "A"},
          "transform": [
            {"joinaggregate": [{"op": "count", "as": "n"}], "groupby": ["gene"]},
            {"window": [{"op": "row_number", "as": "k"}], "groupby": ["gene"], "sort": [{"field": "lab"}]},
            {"filter": "datum.n == 8"}
          ],
          "mark": {"type": "bar"},
          "encoding": {
            "xOffset": {"field": "k", "type": "ordinal"},
            "color": {
              "field": "lab", "type": "nominal",
              "scale": {"domain": ["DCOPIH, Wroclaw", "PBM USK, Rzeszow", "UCK, Gdansk", "ZDHiG SU, Krakow", "Oncogene, Krakow", "SCO, Kielce", "WWCOiT, Lodz", "ZHD, Lublin"], "range": ["#A6CEE3", "#B2DF8A", "#FB9A99", "#FDBF6F", "#1F78B4", "#33A02C", "#E31A1C", "#FF7F00"]},
              "legend": {"title": "Laboratory", "orient": "top", "direction": "horizontal", "columns": 4, "titleOrient": "left", "titleAnchor": "middle", "titleBaseline": "middle", "titleFontSize": 32, "titleFontWeight": "normal", "titleColor": "black", "titlePadding": 17, "labelFontSize": 29, "labelColor": "black", "labelLimit": 1000, "labelOffset": 14, "columnPadding": 15, "rowPadding": 15, "symbolType": "square", "symbolSize": 676, "symbolStrokeWidth": 0, "symbolOpacity": 1, "offset": 38}
            }
          }
        },
        {
          "data": {"name": "A"},
          "transform": [
            {"joinaggregate": [{"op": "count", "as": "n"}], "groupby": ["gene"]},
            {"window": [{"op": "row_number", "as": "k"}], "groupby": ["gene"], "sort": [{"field": "lab"}]},
            {"filter": "datum.n == 7"}
          ],
          "mark": {"type": "bar"},
          "encoding": {
            "xOffset": {"field": "k", "type": "ordinal"},
            "color": {
              "field": "lab", "type": "nominal",
              "scale": {"domain": ["DCOPIH, Wroclaw", "PBM USK, Rzeszow", "UCK, Gdansk", "ZDHiG SU, Krakow", "Oncogene, Krakow", "SCO, Kielce", "WWCOiT, Lodz", "ZHD, Lublin"], "range": ["#A6CEE3", "#B2DF8A", "#FB9A99", "#FDBF6F", "#1F78B4", "#33A02C", "#E31A1C", "#FF7F00"]}
            }
          }
        },
        {
          "data": {"name": "sigA"},
          "mark": {"type": "text", "fontSize": 30, "baseline": "alphabetic", "dy": 17, "color": "black"},
          "encoding": {
            "y": {"field": "at", "type": "quantitative", "title": "Frequency, [%]"},
            "text": {"field": "sig", "type": "nominal"}
          }
        }
      ],
      "resolve": {"scale": {"xOffset": "independent"}}
    },
    {
      "width": 1944,
      "height": 624,
      "title": {"text": "B", "anchor": "start", "frame": "group", "dx": -131, "offset": 20, "fontSize": 44, "fontWeight": "bold", "color": "black", "font": "Liberation Sans"},
      "encoding": {
        "x": {
          "field": "gene", "type": "nominal",
          "sort": ["1-69", "4-34", "3-48", "3-21", "3-23", "3-30", "3-7", "4-39", "1-2", "3-33", "4-59", "2-5", "5-51", "5-10-1", "3-43", "3-20", "1-58"],
          "scale": {"paddingInner": 0.2, "paddingOuter": 0.2},
          "title": "V-gene",
          "axis": {"bandPosition": 0.5, "grid": true, "gridWidth": 3, "labelAngle": -45, "labelAlign": "right", "labelBaseline": "top", "labelPadding": 12, "labelFontSize": 31, "titleFontSize": 38, "titlePadding": 23}
        },
        "y": {
          "field": "freq", "type": "quantitative",
          "scale": {"domain": [-1.1, 23.05], "nice": false, "zero": false},
          "title": "Frequency, [%]",
          "axis": {"values": [0, 2.5, 5, 7.5, 10, 12.5, 15, 17.5, 20, 22.5], "labelExpr": "datum.value % 5 === 0 ? datum.label : ''", "gridWidth": {"condition": {"test": "datum.value % 5 === 0", "value": 3}, "value": 1.6}, "labelFontSize": 31, "labelPadding": 14, "titleFontSize": 38, "titlePadding": 12}
        }
      },
      "layer": [
        {
          "data": {"name": "B"},
          "transform": [
            {"joinaggregate": [{"op": "count", "as": "n"}], "groupby": ["gene"]},
            {"window": [{"op": "row_number", "as": "k"}], "groupby": ["gene"], "sort": [{"field": "lab"}]},
            {"filter": "datum.n == 6"}
          ],
          "mark": {"type": "bar"},
          "encoding": {
            "xOffset": {"field": "k", "type": "ordinal"},
            "color": {
              "field": "lab", "type": "nominal",
              "scale": {"domain": ["DCOPIH, Wroclaw", "PBM USK, Rzeszow", "WWCOiT, Lodz", "Oncogene, Krakow", "SCO, Kielce", "ZDHiG SU, Krakow"], "range": ["#66C2A5", "#8DA0CB", "#A6D854", "#FC8D62", "#E78AC3", "#FFD92F"]},
              "legend": {"title": "Laboratory", "orient": "top", "direction": "horizontal", "columns": 3, "titleOrient": "left", "titleAnchor": "middle", "titleBaseline": "middle", "titleFontSize": 36, "titleFontWeight": "normal", "titleColor": "black", "titlePadding": 13, "labelFontSize": 36, "labelColor": "black", "labelLimit": 1000, "labelOffset": 10, "columnPadding": 14, "rowPadding": 15, "symbolType": "M-0.84,-1H0.84V1H-0.84Z", "symbolSize": 961, "symbolStrokeWidth": 0, "symbolOpacity": 1, "offset": 47}
            }
          }
        },
        {
          "data": {"name": "B"},
          "transform": [
            {"joinaggregate": [{"op": "count", "as": "n"}], "groupby": ["gene"]},
            {"window": [{"op": "row_number", "as": "k"}], "groupby": ["gene"], "sort": [{"field": "lab"}]},
            {"filter": "datum.n == 5"}
          ],
          "mark": {"type": "bar"},
          "encoding": {
            "xOffset": {"field": "k", "type": "ordinal"},
            "color": {"field": "lab", "type": "nominal", "scale": {"domain": ["DCOPIH, Wroclaw", "PBM USK, Rzeszow", "WWCOiT, Lodz", "Oncogene, Krakow", "SCO, Kielce", "ZDHiG SU, Krakow"], "range": ["#66C2A5", "#8DA0CB", "#A6D854", "#FC8D62", "#E78AC3", "#FFD92F"]}}
          }
        },
        {
          "data": {"name": "B"},
          "transform": [
            {"joinaggregate": [{"op": "count", "as": "n"}], "groupby": ["gene"]},
            {"window": [{"op": "row_number", "as": "k"}], "groupby": ["gene"], "sort": [{"field": "lab"}]},
            {"filter": "datum.n == 4"}
          ],
          "mark": {"type": "bar"},
          "encoding": {
            "xOffset": {"field": "k", "type": "ordinal"},
            "color": {"field": "lab", "type": "nominal", "scale": {"domain": ["DCOPIH, Wroclaw", "PBM USK, Rzeszow", "WWCOiT, Lodz", "Oncogene, Krakow", "SCO, Kielce", "ZDHiG SU, Krakow"], "range": ["#66C2A5", "#8DA0CB", "#A6D854", "#FC8D62", "#E78AC3", "#FFD92F"]}}
          }
        },
        {
          "data": {"name": "B"},
          "transform": [
            {"joinaggregate": [{"op": "count", "as": "n"}], "groupby": ["gene"]},
            {"window": [{"op": "row_number", "as": "k"}], "groupby": ["gene"], "sort": [{"field": "lab"}]},
            {"filter": "datum.n == 3"}
          ],
          "mark": {"type": "bar"},
          "encoding": {
            "xOffset": {"field": "k", "type": "ordinal"},
            "color": {"field": "lab", "type": "nominal", "scale": {"domain": ["DCOPIH, Wroclaw", "PBM USK, Rzeszow", "WWCOiT, Lodz", "Oncogene, Krakow", "SCO, Kielce", "ZDHiG SU, Krakow"], "range": ["#66C2A5", "#8DA0CB", "#A6D854", "#FC8D62", "#E78AC3", "#FFD92F"]}}
          }
        },
        {
          "data": {"name": "B"},
          "transform": [
            {"joinaggregate": [{"op": "count", "as": "n"}], "groupby": ["gene"]},
            {"window": [{"op": "row_number", "as": "k"}], "groupby": ["gene"], "sort": [{"field": "lab"}]},
            {"filter": "datum.n == 2"}
          ],
          "mark": {"type": "bar"},
          "encoding": {
            "xOffset": {"field": "k", "type": "ordinal"},
            "color": {"field": "lab", "type": "nominal", "scale": {"domain": ["DCOPIH, Wroclaw", "PBM USK, Rzeszow", "WWCOiT, Lodz", "Oncogene, Krakow", "SCO, Kielce", "ZDHiG SU, Krakow"], "range": ["#66C2A5", "#8DA0CB", "#A6D854", "#FC8D62", "#E78AC3", "#FFD92F"]}}
          }
        },
        {
          "data": {"name": "sigB"},
          "mark": {"type": "text", "fontSize": 30, "baseline": "alphabetic", "dy": 17, "color": "black"},
          "encoding": {
            "y": {"field": "at", "type": "quantitative", "title": "Frequency, [%]"},
            "text": {"field": "sig", "type": "nominal"}
          }
        }
      ],
      "resolve": {"scale": {"xOffset": "independent"}}
    },
    {
      "width": 1944,
      "height": 625,
      "title": {"text": "C", "anchor": "start", "frame": "group", "dx": -131, "offset": 22, "fontSize": 44, "fontWeight": "bold", "color": "black", "font": "Liberation Sans"},
      "encoding": {
        "x": {
          "field": "gene", "type": "nominal",
          "sort": ["1-69", "4-34", "3-30", "3-23", "1-2", "3-7", "3-21", "3-48", "3-11", "3-33", "5-51", "3-15", "4-39", "4-59", "1-3", "3-30-3", "2-5", "3-9", "4-61", "4-30-4", "4-30-2"],
          "scale": {"paddingInner": 0.2, "paddingOuter": 0.2},
          "title": "V-gene",
          "axis": {"bandPosition": 0.5, "grid": true, "gridWidth": 3, "labelAngle": -45, "labelAlign": "right", "labelBaseline": "top", "labelPadding": 12, "labelFontSize": 31, "titleFontSize": 38, "titlePadding": 17}
        },
        "y": {
          "field": "freq", "type": "quantitative",
          "scale": {"domain": [-1.4, 29.3], "nice": false, "zero": false},
          "title": "Frequency, [%]",
          "axis": {"values": [0, 5, 10, 15, 20, 25], "labelExpr": "datum.value % 10 === 0 ? datum.label : ''", "gridWidth": {"condition": {"test": "datum.value % 10 === 0", "value": 3}, "value": 1.6}, "labelFontSize": 31, "labelPadding": 14, "titleFontSize": 38, "titlePadding": 12}
        }
      },
      "layer": [
        {
          "data": {"name": "C"},
          "transform": [
            {"joinaggregate": [{"op": "count", "as": "n"}], "groupby": ["gene"]},
            {"window": [{"op": "row_number", "as": "k"}], "groupby": ["gene"], "sort": [{"field": "lab"}]},
            {"filter": "datum.n == 5"}
          ],
          "mark": {"type": "bar"},
          "encoding": {
            "xOffset": {"field": "k", "type": "ordinal"},
            "color": {
              "field": "lab", "type": "nominal",
              "scale": {"domain": ["Oncogene, Krakow", "UCK, Gdansk", "WWCOiT, Lodz", "ZDHiG SU, Krakow", "ZHD, Lublin"], "range": ["#66C2A5", "#FC8D62", "#8DA0CB", "#E78AC3", "#A6D854"]},
              "legend": {"title": "Laboratory", "orient": "top", "direction": "horizontal", "columns": 5, "titleOrient": "left", "titleAnchor": "middle", "titleBaseline": "middle", "titleFontSize": 36, "titleFontWeight": "normal", "titleColor": "black", "titlePadding": 12, "labelFontSize": 36, "labelColor": "black", "labelLimit": 1000, "labelOffset": 10.5, "columnPadding": 11.5, "rowPadding": 15, "symbolType": "M-0.84,-1H0.84V1H-0.84Z", "symbolSize": 961, "symbolStrokeWidth": 0, "symbolOpacity": 1, "offset": 48}
            }
          }
        },
        {
          "data": {"name": "C"},
          "transform": [
            {"joinaggregate": [{"op": "count", "as": "n"}], "groupby": ["gene"]},
            {"window": [{"op": "row_number", "as": "k"}], "groupby": ["gene"], "sort": [{"field": "lab"}]},
            {"filter": "datum.n == 4"}
          ],
          "mark": {"type": "bar"},
          "encoding": {
            "xOffset": {"field": "k", "type": "ordinal"},
            "color": {"field": "lab", "type": "nominal", "scale": {"domain": ["Oncogene, Krakow", "UCK, Gdansk", "WWCOiT, Lodz", "ZDHiG SU, Krakow", "ZHD, Lublin"], "range": ["#66C2A5", "#FC8D62", "#8DA0CB", "#E78AC3", "#A6D854"]}}
          }
        },
        {
          "data": {"name": "sigC"},
          "mark": {"type": "text", "fontSize": 30, "baseline": "alphabetic", "dy": 17, "color": "black"},
          "encoding": {
            "y": {"field": "at", "type": "quantitative", "title": "Frequency, [%]"},
            "text": {"field": "sig", "type": "nominal"}
          }
        }
      ],
      "resolve": {"scale": {"xOffset": "independent"}}
    }
  ],
  "resolve": {"scale": {"color": "independent"}, "legend": {"color": "independent"}}
}
